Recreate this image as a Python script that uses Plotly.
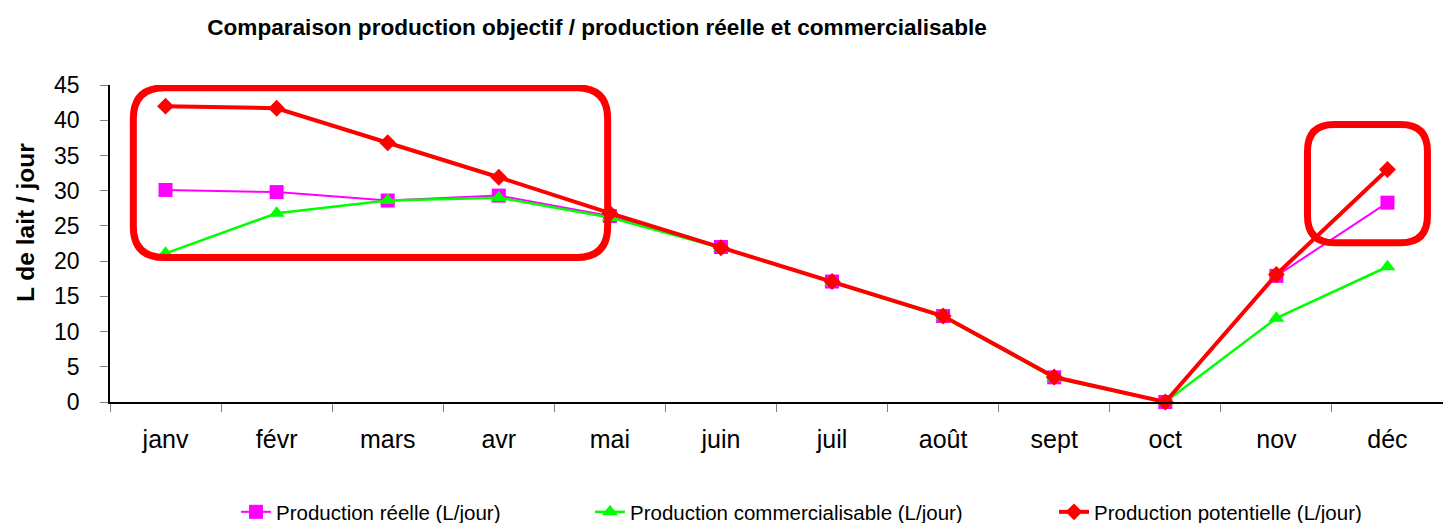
import plotly.graph_objects as go

mois = ["janv", "févr", "mars", "avr", "mai", "juin", "juil", "août", "sept", "oct", "nov", "déc"]
prod_reelle = [30.1, 29.8, 28.6, 29.3, 26.4, 22.0, 17.1, 12.2, 3.5, 0.0, 17.9, 28.3]
prod_commercialisable = [21.1, 26.8, 28.6, 29.0, 26.2, 21.9, 17.0, 12.1, 3.4, 0.0, 11.9, 19.2]
prod_potentielle = [42.0, 41.7, 36.8, 31.9, 26.8, 21.9, 17.1, 12.2, 3.55, 0.0, 18.1, 33.0]

font_family = "Arial, Liberation Sans, sans-serif"

W, H = 1443, 523
ML, MT, MB = 110, 85, 121
PW, PH = W - ML, H - MT - MB

fig = go.Figure()
fig.add_trace(go.Scatter(
    x=mois, y=prod_reelle, name="Production réelle (L/jour)",
    mode="lines+markers", line=dict(color="#ff00ff", width=2),
    marker=dict(symbol="square", size=14, color="#ff00ff"),
    cliponaxis=False, legend="legend",
))
fig.add_trace(go.Scatter(
    x=mois, y=prod_commercialisable, name="Production commercialisable (L/jour)",
    mode="lines+markers", line=dict(color="#00ff00", width=2.5),
    marker=dict(symbol="triangle-up", size=14, color="#00ff00"),
    cliponaxis=False, legend="legend2",
))
fig.add_trace(go.Scatter(
    x=mois, y=prod_potentielle, name="Production potentielle (L/jour)",
    mode="lines+markers", line=dict(color="#ff0000", width=4),
    marker=dict(symbol="diamond", size=13, color="#ff0000"),
    cliponaxis=False, legend="legend3",
))


def rounded_box(x0, x1, y0, y1, rx, ry):
    # rectangle aux coins arrondis, en coordonnees de donnees (index de categorie)
    return (
        f"M {x0 + rx},{y1} L {x1 - rx},{y1} Q {x1},{y1} {x1},{y1 - ry} "
        f"L {x1},{y0 + ry} Q {x1},{y0} {x1 - rx},{y0} "
        f"L {x0 + rx},{y0} Q {x0},{y0} {x0},{y0 + ry} "
        f"L {x0},{y1 - ry} Q {x0},{y1} {x0 + rx},{y1} Z"
    )


fig.add_shape(type="path", xref="x", yref="y",
              path=rounded_box(-0.29, 3.98, 20.5, 44.6, 0.28, 4.4),
              line=dict(color="#ff0000", width=7), layer="above")
fig.add_shape(type="path", xref="x", yref="y",
              path=rounded_box(10.28, 11.36, 22.6, 39.4, 0.24, 3.8),
              line=dict(color="#ff0000", width=7), layer="above")

# legendes positionnees dans le conteneur pour ne pas pousser les marges
legend_common = dict(
    orientation="h", yref="container", yanchor="middle", y=(H - 512) / H,
    xanchor="left",
    font=dict(family=font_family, size=20.5, color="black"),
    bgcolor="rgba(0,0,0,0)",
)

fig.add_annotation(
    text="<b>L de lait / jour</b>", textangle=-90,
    xref="paper", yref="paper", x=(25 - ML) / PW, y=(PH + MT - 223) / PH,
    xanchor="center", yanchor="middle", showarrow=False,
    font=dict(family=font_family, size=24.5, color="black"),
)

fig.update_layout(
    width=W, height=H,
    margin=dict(l=ML, r=0, t=MT, b=MB),
    plot_bgcolor="white", paper_bgcolor="white",
    font=dict(family=font_family, color="black"),
    title=dict(
        text="<b>Comparaison production objectif / production réelle et commercialisable</b>",
        x=597 / W, xanchor="center", y=1 - 27 / H, yanchor="middle",
        font=dict(family=font_family, size=22.6, color="black"),
    ),
    legend=dict(legend_common, x=(236 - ML) / PW),
    legend2=dict(legend_common, x=(590 - ML) / PW),
    legend3=dict(legend_common, x=(1054 - ML) / PW),
    showlegend=True,
)
fig.update_xaxes(
    type="category", range=[-0.5, 11.5],
    showline=True, linecolor="black", linewidth=1.5,
    ticks="outside", tickson="boundaries", ticklen=8, tickcolor="#808080",
    ticklabelstandoff=14,
    showgrid=False, tickfont=dict(size=25, color="black"),
)
fig.update_yaxes(
    range=[0, 45], dtick=5,
    showline=True, linecolor="black", linewidth=1.5,
    ticks="outside", ticklen=8, tickcolor="#808080",
    ticklabelstandoff=16,
    showgrid=False, zeroline=False, tickfont=dict(size=23, color="black"),
)

# page sans marge ni barres de defilement
page_js = (
    "document.body.style.margin = '0';"
    "document.body.style.overflow = 'hidden';"
    "document.documentElement.style.overflow = 'hidden';"
)
fig.write_html("out.html", config={"displayModeBar": False}, post_script=page_js)
